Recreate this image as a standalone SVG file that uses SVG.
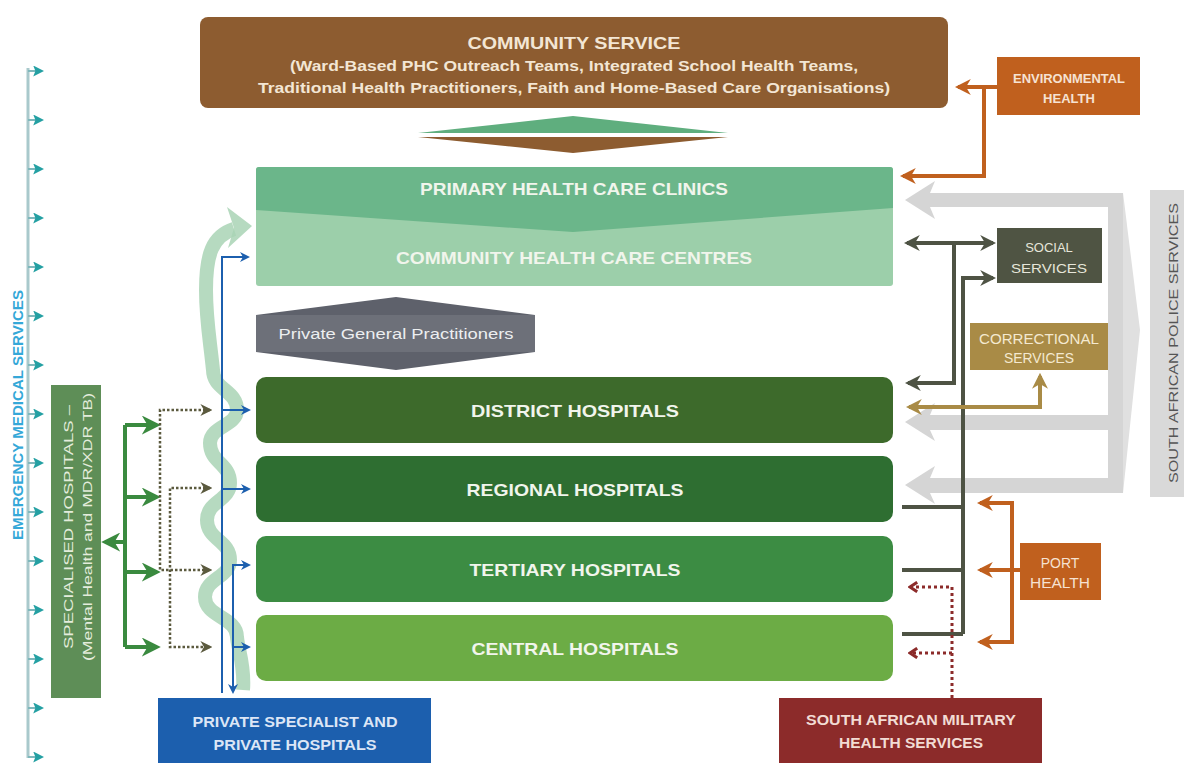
<svg xmlns="http://www.w3.org/2000/svg" width="1184" height="763" viewBox="0 0 1184 763">
<defs>
<style>
text{font-family:"Liberation Sans",Arial,sans-serif;font-weight:bold;text-anchor:middle;dominant-baseline:central}
.hosp{font-size:17px;fill:#f1f5ec}
.lbl{font-size:13px}
.reg{font-weight:normal}
.or{fill:none;stroke:#c0601e;stroke-width:4}
.dk{fill:none;stroke:#4e5344;stroke-width:4}
.tan{fill:none;stroke:#a98b46;stroke-width:4}
.gr{fill:none;stroke:#3a8a3f;stroke-width:4}
.ol{fill:none;stroke:#5b5a3e;stroke-width:2.5;stroke-dasharray:2.5 2}
.bl{fill:none;stroke:#1c5fae;stroke-width:2}
.mil{fill:none;stroke:#8c2b2a;stroke-width:3;stroke-dasharray:3 3}
.ems{fill:none;stroke:#7fb8bc;stroke-width:2}
.pol{fill:#d5d5d5}
</style>
<marker id="aOr" viewBox="0 0 10 10" refX="8" refY="5" markerWidth="16" markerHeight="16" markerUnits="userSpaceOnUse" orient="auto-start-reverse"><path d="M0,0 L10,5 L0,10 L3,5 z" fill="#c0601e"/></marker>
<marker id="aDk" viewBox="0 0 10 10" refX="8" refY="5" markerWidth="16" markerHeight="16" markerUnits="userSpaceOnUse" orient="auto-start-reverse"><path d="M0,0 L10,5 L0,10 L3,5 z" fill="#4e5344"/></marker>
<marker id="aTan" viewBox="0 0 10 10" refX="8" refY="5" markerWidth="16" markerHeight="16" markerUnits="userSpaceOnUse" orient="auto-start-reverse"><path d="M0,0 L10,5 L0,10 L3,5 z" fill="#a98b46"/></marker>
<marker id="aGr" viewBox="0 0 10 10" refX="8" refY="5" markerWidth="19" markerHeight="19" markerUnits="userSpaceOnUse" orient="auto-start-reverse"><path d="M0,0 L10,5 L0,10 L3,5 z" fill="#3a8a3f"/></marker>
<marker id="aOl" viewBox="0 0 10 10" refX="8" refY="5" markerWidth="12" markerHeight="12" markerUnits="userSpaceOnUse" orient="auto-start-reverse"><path d="M0,0 L10,5 L0,10 L3,5 z" fill="#5b5a3e"/></marker>
<marker id="aBl" viewBox="0 0 10 10" refX="8" refY="5" markerWidth="10" markerHeight="10" markerUnits="userSpaceOnUse" orient="auto-start-reverse"><path d="M0,0 L10,5 L0,10 L3,5 z" fill="#1c5fae"/></marker>
<marker id="aMil" viewBox="0 0 10 10" refX="8" refY="5" markerWidth="12" markerHeight="12" markerUnits="userSpaceOnUse" orient="auto-start-reverse"><path d="M2,1 L8,5 L2,9" fill="none" stroke="#8c2b2a" stroke-width="2.5"/></marker>
<marker id="aEms" viewBox="0 0 10 10" refX="8" refY="5" markerWidth="11" markerHeight="11" markerUnits="userSpaceOnUse" orient="auto"><path d="M0,0 L10,5 L0,10 L2,5 z" fill="#24a0a3"/></marker>
</defs>
<rect width="1184" height="763" fill="#ffffff"/>

<g id="ems">
<line x1="28" y1="68" x2="28" y2="758" stroke="#a9c9cc" stroke-width="3"/>
<g class="ems" marker-end="url(#aEms)">
<path d="M28,71 H42"/><path d="M28,120 H42"/><path d="M28,169 H42"/><path d="M28,218 H42"/><path d="M28,267 H42"/><path d="M28,316 H42"/><path d="M28,365 H42"/><path d="M28,414 H42"/><path d="M28,463 H42"/><path d="M28,512 H42"/><path d="M28,561 H42"/><path d="M28,610 H42"/><path d="M28,659 H42"/><path d="M28,708 H42"/><path d="M28,757 H42"/>
</g>
<text x="18" y="415" transform="rotate(-90 18 415)" font-size="14" fill="#35a8d8" textLength="250" lengthAdjust="spacingAndGlyphs">EMERGENCY MEDICAL SERVICES</text>
</g>

<g id="community-service">
<rect x="200" y="17" width="748" height="91" rx="8" fill="#8d5c30"/>
<text x="574" y="43" font-size="17" fill="#f3e6d4" textLength="213" lengthAdjust="spacingAndGlyphs">COMMUNITY  SERVICE</text>
<text x="574" y="66" font-size="14" fill="#f3e6d4" textLength="568" lengthAdjust="spacingAndGlyphs">(Ward-Based PHC Outreach Teams, Integrated School Health Teams,</text>
<text x="574" y="88" font-size="14" fill="#f3e6d4" textLength="632" lengthAdjust="spacingAndGlyphs">Traditional Health Practitioners, Faith and Home-Based Care Organisations)</text>
</g>

<g id="cs-phc-link">
<polygon points="418,133 573,116 728,133" fill="#5fae7e"/>
<polygon points="418,137 573,153 728,137" fill="#8d5c30"/>
</g>

<g id="phc">
<rect x="256" y="167" width="637" height="119" rx="3" fill="#9ccfaa"/>
<path d="M259,167 H890 Q893,167 893,170 V208 L573,232 L256,210 V170 Q256,167 259,167 Z" fill="#6bb68a"/>
<text x="574" y="189" class="hosp" textLength="308" lengthAdjust="spacingAndGlyphs">PRIMARY HEALTH CARE CLINICS</text>
<text x="574" y="258" class="hosp" fill="#eaf4ea" textLength="356" lengthAdjust="spacingAndGlyphs">COMMUNITY HEALTH CARE CENTRES</text>
</g>

<g id="private-gp">
<polygon points="256,315 396,297 535,315" fill="#5e616b"/>
<rect x="256" y="315" width="279" height="37" fill="#6d7079"/>
<polygon points="256,352 396,370 535,352" fill="#5e616b"/>
<text x="396" y="334" font-size="14" class="reg" fill="#eceef0" textLength="235" lengthAdjust="spacingAndGlyphs">Private General Practitioners</text>
</g>

<g id="district">
<rect x="256" y="377" width="637" height="66" rx="10" fill="#3d6a2b"/>
<text x="575" y="411" class="hosp" textLength="208" lengthAdjust="spacingAndGlyphs">DISTRICT HOSPITALS</text>
</g>
<g id="regional">
<rect x="256" y="456" width="637" height="66" rx="10" fill="#2e6e31"/>
<text x="575" y="490" class="hosp" textLength="217" lengthAdjust="spacingAndGlyphs">REGIONAL HOSPITALS</text>
</g>
<g id="tertiary">
<rect x="256" y="536" width="637" height="66" rx="10" fill="#3c8c43"/>
<text x="575" y="570" class="hosp" textLength="211" lengthAdjust="spacingAndGlyphs">TERTIARY HOSPITALS</text>
</g>
<g id="central">
<rect x="256" y="615" width="637" height="66" rx="10" fill="#6cac45"/>
<text x="575" y="649" class="hosp" textLength="207" lengthAdjust="spacingAndGlyphs">CENTRAL HOSPITALS</text>
</g>

<g id="specialised">
<rect x="51" y="385" width="50" height="313" fill="#5e8e57"/>
<text x="68" y="527" transform="rotate(-90 68 527)" font-size="13" class="reg" fill="#e4ecdc" textLength="244" lengthAdjust="spacingAndGlyphs">SPECIALISED HOSPITALS –</text>
<text x="87" y="527" transform="rotate(-90 87 527)" font-size="13" class="reg" fill="#e4ecdc" textLength="268" lengthAdjust="spacingAndGlyphs">(Mental Health and MDR/XDR TB)</text>
</g>

<g id="environmental-health">
<rect x="997" y="57" width="143" height="58" fill="#c0601e"/>
<text x="1069" y="78" class="lbl" fill="#f6e2d2" textLength="112" lengthAdjust="spacingAndGlyphs">ENVIRONMENTAL</text>
<text x="1069" y="98" class="lbl" fill="#f6e2d2">HEALTH</text>
</g>

<g id="social-services">
<rect x="997" y="228" width="105" height="55" fill="#4f5443"/>
<text x="1049" y="247" class="lbl reg" fill="#e6e6da">SOCIAL</text>
<text x="1049" y="268" class="lbl reg" fill="#e6e6da" textLength="76" lengthAdjust="spacingAndGlyphs">SERVICES</text>
</g>

<g id="correctional-services">
<rect x="970" y="323" width="138" height="47" fill="#a98b46"/>
<text x="1039" y="339" font-size="14" class="reg" fill="#f4e9d0" textLength="120" lengthAdjust="spacingAndGlyphs">CORRECTIONAL</text>
<text x="1039" y="358" font-size="14" class="reg" fill="#f4e9d0" textLength="70" lengthAdjust="spacingAndGlyphs">SERVICES</text>
</g>

<g id="police">
<rect x="1150" y="190" width="34" height="307" fill="#d9d9d9"/>
<text x="1173" y="343" transform="rotate(-90 1173 343)" font-size="13" class="reg" fill="#555555" textLength="280" lengthAdjust="spacingAndGlyphs">SOUTH AFRICAN POLICE SERVICES</text>
</g>

<g id="port-health">
<rect x="1020" y="543" width="81" height="57" fill="#c0601e"/>
<text x="1060" y="563" font-size="14" class="reg" fill="#f6e2d2">PORT</text>
<text x="1060" y="583" font-size="14" class="reg" fill="#f6e2d2" textLength="60" lengthAdjust="spacingAndGlyphs">HEALTH</text>
</g>

<g id="private-specialist">
<rect x="158" y="698" width="273" height="65" fill="#1c5fae"/>
<text x="295" y="722" font-size="14" fill="#dce6f6" textLength="205" lengthAdjust="spacingAndGlyphs">PRIVATE SPECIALIST AND</text>
<text x="295" y="745" font-size="14" fill="#dce6f6" textLength="163" lengthAdjust="spacingAndGlyphs">PRIVATE HOSPITALS</text>
</g>

<g id="military">
<rect x="779" y="698" width="263" height="65" fill="#8c2b2a"/>
<text x="911" y="720" font-size="14" fill="#f2dcd4" textLength="210" lengthAdjust="spacingAndGlyphs">SOUTH AFRICAN MILITARY</text>
<text x="911" y="743" font-size="14" fill="#f2dcd4" textLength="144" lengthAdjust="spacingAndGlyphs">HEALTH SERVICES</text>
</g>

<g id="connectors">
<g class="pol">
<rect x="1108" y="193" width="15" height="300"/>
<polygon points="1123,193 1140,330 1123,493" fill="#e0e0e0"/>
<rect x="928" y="193" width="182" height="14"/>
<rect x="928" y="415" width="182" height="15"/>
<rect x="928" y="478" width="182" height="15"/>
<polygon points="905,200 935,181 930,193 930,207 935,219"/>
<polygon points="905,422 935,403 930,415 930,430 935,441"/>
<polygon points="905,485 935,466 930,478 930,493 935,504"/>
</g>
<path d="M243,690 C245,665 238,650 237,637 C237,617 205,617 205,597 C205,578 230,578 230,560 C230,540 207,540 207,520 C207,501 230,501 230,483 C230,463 210,463 210,443 C210,426 237,426 237,410 C237,390 213,390 213,370 C210,340 206,320 206,290 C206,255 212,236 234,229" fill="none" stroke="#a9d3b5" stroke-width="14" opacity="0.85"/>
<polygon points="252,226 227,207 234,228 228,248" fill="#a9d3b5" opacity="0.85"/>
<path class="or" d="M997,87 H958" marker-end="url(#aOr)"/>
<path class="or" d="M984,87 V176 H903" marker-end="url(#aOr)"/>
<path class="dk" d="M907,243 H993" marker-start="url(#aDk)" marker-end="url(#aDk)"/>
<path class="dk" d="M954,243 V383 H908" marker-end="url(#aDk)"/>
<path class="dk" d="M963,634 V278 H993" marker-end="url(#aDk)"/>
<path class="dk" d="M963,507 H902 M963,570 H902 M963,634 H902"/>
<path class="tan" d="M1040,376 V407 H909" marker-start="url(#aTan)" marker-end="url(#aTan)"/>
<path class="or" d="M980,503 H1012 V642 H980" marker-start="url(#aOr)" marker-end="url(#aOr)"/>
<path class="or" d="M1020,570 H980" marker-end="url(#aOr)"/>
<path class="mil" d="M952,698 V587 H910" marker-end="url(#aMil)"/>
<path class="mil" d="M952,653 H910" marker-end="url(#aMil)"/>
<path class="gr" d="M125,425 V647"/>
<path class="gr" d="M125,425 H157" marker-end="url(#aGr)"/>
<path class="gr" d="M125,497 H157" marker-end="url(#aGr)"/>
<path class="gr" d="M125,572 H157" marker-end="url(#aGr)"/>
<path class="gr" d="M125,647 H157" marker-end="url(#aGr)"/>
<path class="gr" d="M125,542 H105" marker-end="url(#aGr)"/>
<path class="ol" d="M210,410 H160 V570 H210" marker-start="url(#aOl)" marker-end="url(#aOl)"/>
<path class="ol" d="M210,488 H170 V647 H210" marker-start="url(#aOl)" marker-end="url(#aOl)"/>
<path class="bl" d="M222,693 V257 H248" marker-end="url(#aBl)"/>
<path class="bl" d="M222,410 H249" marker-end="url(#aBl)"/>
<path class="bl" d="M222,489 H249" marker-end="url(#aBl)"/>
<path class="bl" d="M249,565 H233 V692" marker-start="url(#aBl)" marker-end="url(#aBl)"/>
<path class="bl" d="M233,647 H249" marker-end="url(#aBl)"/>
</g>
</svg>
